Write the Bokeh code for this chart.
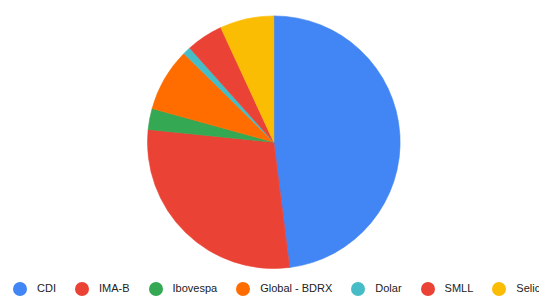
import math
from bokeh.plotting import figure
from bokeh.models import ColumnDataSource, Range1d, Legend, LegendItem
from bokeh.embed import file_html
from bokeh.resources import INLINE

categories = ["CDI", "IMA-B", "Ibovespa", "Global - BDRX", "Dolar", "SMLL", "Selic"]
values = [48.0, 28.6, 2.7, 8.1, 1.0, 4.7, 6.9]
colors = ["#4285F4", "#EA4335", "#34A853", "#FF6D01", "#46BDC6", "#EA4335", "#FBBC04"]

W, H = 539, 296
CX, CY, R = 273.3, 154.3, 126.3

total = sum(values)
starts, ends = [], []
cum = 0.0
for v in values:
    a0 = cum / total * 2 * math.pi
    cum += v
    a1 = cum / total * 2 * math.pi
    starts.append(math.pi / 2 - a0)
    ends.append(math.pi / 2 - a1)

src = ColumnDataSource(dict(cat=categories, val=values, color=colors,
                            start=starts, end=ends,
                            x=[CX] * len(values), y=[CY] * len(values)))

p = figure(width=W, height=H, output_backend="svg", toolbar_location=None,
           x_range=Range1d(0, W), y_range=Range1d(0, H), min_border=0)
p.axis.visible = False
p.grid.visible = False
p.outline_line_color = None
p.background_fill_color = "white"
p.border_fill_color = "white"

p.wedge(x="x", y="y", radius=R, start_angle="start", end_angle="end",
        direction="clock", fill_color="color", line_color="color", line_width=0.6,
        source=src)

items = []
for c, col in zip(categories, colors):
    rr = p.scatter(x=[-100], y=[-100], size=14, fill_color=col, line_color=None)
    items.append(LegendItem(label=c, renderers=[rr]))

legend = Legend(items=items, orientation="horizontal", location=(2, -9.5),
                glyph_width=35, glyph_height=35, label_standoff=0, spacing=8,
                label_width=0, padding=0, margin=0, border_line_color=None,
                background_fill_alpha=0, label_text_font="Liberation Sans",
                label_text_font_size="11px", label_text_color="#222222",
                click_policy="none")
p.add_layout(legend, "center")

open("out.html", "w").write(file_html(p, INLINE))
